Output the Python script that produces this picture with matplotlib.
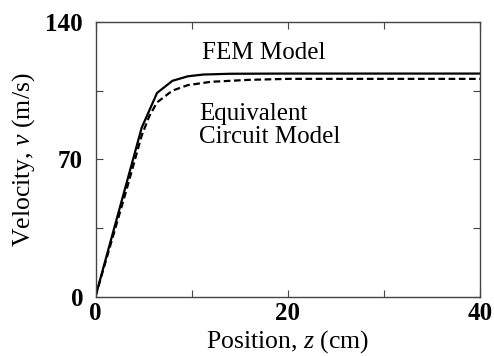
import matplotlib
matplotlib.use("Agg")
import matplotlib.pyplot as plt

plt.rcParams['font.family'] = ['Liberation Serif', 'DejaVu Serif']
plt.rcParams['mathtext.fontset'] = 'custom'
plt.rcParams['mathtext.rm'] = 'Liberation Serif'
plt.rcParams['mathtext.it'] = 'Liberation Serif:italic'

# FEM model (solid)
z_fem = [0, 1.6, 3.2, 4.8, 6.4, 8.0, 9.6, 11.2, 14.0, 20.0, 40.0]
v_fem = [0, 28.7, 57.3, 86.0, 103.8, 110.0, 112.3, 113.2, 113.6, 113.7, 113.7]

# equivalent circuit model (dashed)
z_eq = [0, 1.6, 3.2, 4.8, 5.6, 6.4, 8.0, 9.6, 12.0, 16.0, 20.0, 40.0]
v_eq = [0, 27.0, 54.0, 82.0, 92.0, 99.0, 105.0, 107.8, 109.5, 110.5, 111.0, 111.0]

xticks = [0, 20, 40]
yticks = [0, 70, 140]

fig = plt.figure(figsize=(4.94, 3.56), dpi=100)
ax = fig.add_axes([95.5/494, 1-296.5/356, (480-95.5)/494, (296.5-22)/356])

ax.plot(z_fem, v_fem, color='black', lw=1.6, solid_joinstyle='miter')
ax.plot(z_eq, v_eq, color='black', lw=1.6, ls=(0, (3, 1.6)))

ax.set_xlim(0, 40)
ax.set_ylim(0, 140)
ax.set_xticks(xticks)
ax.set_yticks(yticks)
ax.set_xticks([10, 30], minor=True)
ax.set_yticks([35, 105], minor=True)
ax.tick_params(which='both', direction='in', top=True, right=True,
               length=5, width=0.8, color='#444444')
ax.tick_params(which='major', labelsize=18)
ax.tick_params(axis='y', which='major', pad=9)
ax.tick_params(axis='x', which='major', pad=4)
for lab in ax.get_xticklabels() + ax.get_yticklabels():
    lab.set_fontweight('bold')
for s in ax.spines.values():
    s.set_color('#444444')
    s.set_linewidth(1.0)

ax.set_xlabel('Position, $z$ (cm)', fontsize=18.5, labelpad=2)
ax.set_ylabel('Velocity, $v$ (m/s)', fontsize=18.5, labelpad=6)

ax.text(11.1, 124, 'FEM Model', fontsize=18, va='center', ha='left')
ax.text(10.8, 87, 'Equivalent\nCircuit Model', fontsize=18, va='center',
        ha='left', linespacing=1.05)

fig.savefig('out.png', dpi=100)
